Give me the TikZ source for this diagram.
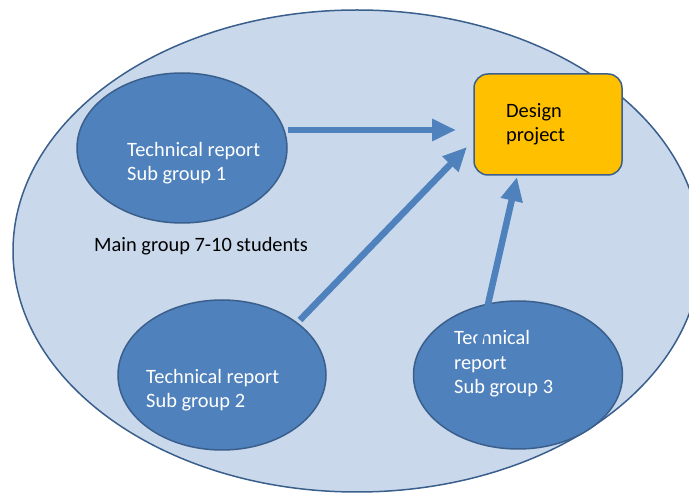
\documentclass[tikz,border=0pt]{standalone}
\usepackage{fontspec}
\setmainfont{Carlito}
\usetikzlibrary{arrows.meta,shapes.geometric}
\definecolor{bigfill}{HTML}{C9D9EB}
\definecolor{edgeblue}{HTML}{3B5F8C}
\definecolor{subfill}{HTML}{4F81BD}
\definecolor{arrowblue}{HTML}{4F81BD}
\definecolor{boxfill}{HTML}{FFC000}
\tikzset{
  subgroup/.style={ellipse, draw=edgeblue, line width=1.5pt, fill=subfill, inner sep=0pt},
  lbl/.style={anchor=base west, inner sep=0pt, align=left, font=\fontsize{20.4}{24.5}\selectfont},
  whitelbl/.style={lbl, text=white},
  flow/.style={draw=arrowblue, line width=6.5pt, -{Triangle[length=24pt, width=21pt]}},
}
\begin{document}
\begin{tikzpicture}[x=1pt, y=-1pt]
\useasboundingbox (0,0) rectangle (689,494);
\clip (0,0) rectangle (689,494);
% main group
\node[ellipse, draw=edgeblue, line width=1.5pt, fill=bigfill, minimum width=688pt, minimum height=482pt, inner sep=0pt] (main) at (357,251) {};
% sub groups
\node[subgroup, minimum width=210pt, minimum height=150pt] (g1) at (182,148) {};
\node[subgroup, minimum width=208pt, minimum height=150pt] (g2) at (222,375) {};
\node[subgroup, minimum width=209pt, minimum height=148pt] (g3) at (518,375) {};
% design project
\node[draw=edgeblue, line width=1.5pt, fill=boxfill, rounded corners=14pt, minimum width=148pt, minimum height=101pt, inner sep=0pt] (dp) at (548,124.5) {};
% texts (base anchor = baseline of last line)
\node[whitelbl] (t1) at (127,181) {Technical report\\Sub group 1};
\node[whitelbl] (t2) at (146,408) {Technical report\\Sub group 2};
\node[whitelbl] (t3) at (454,394) {Technical\\report\\Sub group 3};
\node[lbl] (tm) at (94,252) {Main group 7-10 students};
\node[lbl] (td) at (506,142) {Design\\project};
% arrows
\coordinate (a1s) at (g1.east |- 0,130);
\coordinate (a1e) at (456,130);
\coordinate (a2s) at (300,320);
\coordinate (a2e) at (467,147);
\coordinate (a3s) at (478,348);
\coordinate (a3e) at (517,177);
\draw[flow] (a1s) -- (a1e);
\draw[flow] (a2s) -- (a2e);
\draw[flow] (a3s) -- (a3e);
\end{tikzpicture}
\end{document}
